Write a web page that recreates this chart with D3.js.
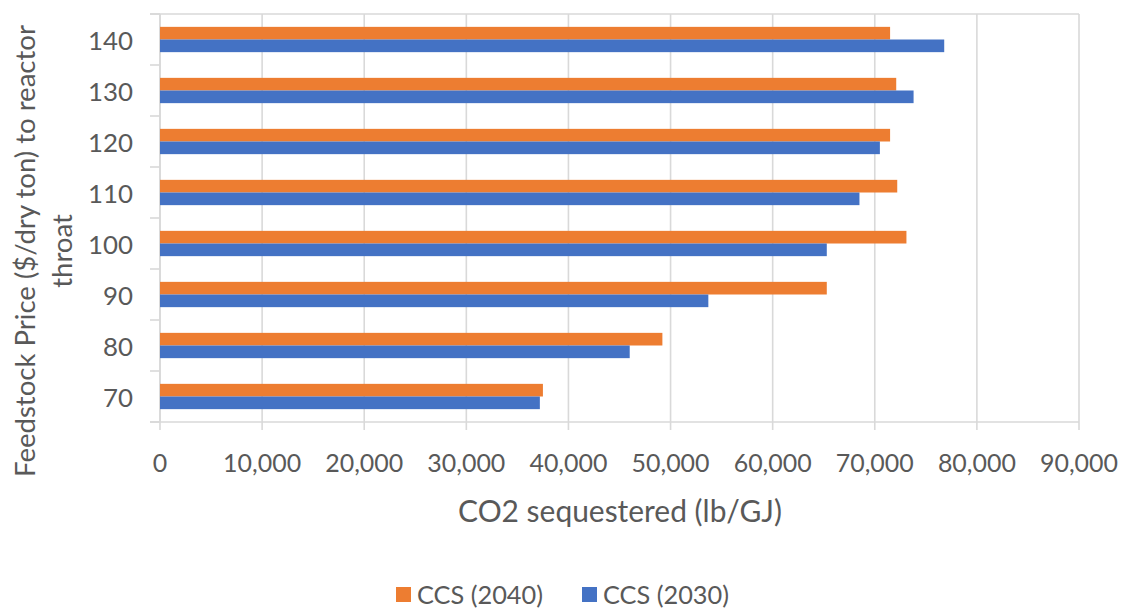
<!DOCTYPE html>
<html>
<head>
<meta charset="utf-8">
<script src="https://cdn.jsdelivr.net/npm/d3@7"></script>
<style>
  html, body { margin: 0; padding: 0; background: #fff; }
  svg { display: block; }
  text { font-family: Lato, "Open Sans", sans-serif; fill: #595959; }
</style>
</head>
<body>
<svg id="chart" width="1125" height="609"></svg>
<script>
const categories = ["70", "80", "90", "100", "110", "120", "130", "140"];
const ccs2040 = [37500, 49200, 65300, 73100, 72200, 71500, 72100, 71500];
const ccs2030 = [37200, 46000, 53700, 65300, 68500, 70500, 73800, 76800];
const xTicks = [0, 10000, 20000, 30000, 40000, 50000, 60000, 70000, 80000, 90000];
const seriesNames = ["CCS (2040)", "CCS (2030)"];
const seriesColors = ["#ED7D31", "#4472C4"];
const xTitle = "CO2 sequestered (lb/GJ)";
const yTitleLines = ["Feedstock Price ($/dry ton) to reactor", "throat"];

const svg = d3.select("#chart");
const m = { left: 160, right: 1079, top: 14, bottom: 422 };
const grid = "#d9d9d9";

function fit(sel, target) {
  sel.each(function () {
    const s = d3.select(this);
    const w = this.getComputedTextLength();
    const fs = parseFloat(s.attr("font-size"));
    s.attr("font-size", (fs * target / w).toFixed(2));
  });
}

const x = d3.scaleLinear().domain([0, 90000]).range([m.left, m.right]);
const y = d3.scaleBand().domain(categories.slice().reverse()).range([m.top, m.bottom]).padding(0);
const sub = d3.scaleBand().domain(seriesNames).range([y.bandwidth() * 0.252, y.bandwidth() * 0.748]).padding(0);

const data = categories.map((c, i) => ({ cat: c, vals: [ccs2040[i], ccs2030[i]] }));

// gridlines
svg.append("g").selectAll("line").data(xTicks).join("line")
  .attr("x1", d => x(d)).attr("x2", d => x(d))
  .attr("y1", m.top).attr("y2", m.bottom + 8)
  .attr("stroke", grid).attr("stroke-width", 1.6);
svg.append("line").attr("x1", m.left - 10).attr("x2", m.right).attr("y1", m.top).attr("y2", m.top)
  .attr("stroke", grid).attr("stroke-width", 1.6);
svg.append("line").attr("x1", m.left).attr("x2", m.left).attr("y1", m.top).attr("y2", m.bottom)
  .attr("stroke", grid).attr("stroke-width", 1.6);
const bounds = categories.map(c => y(c)).concat([m.bottom]);
svg.append("g").selectAll("line").data(bounds).join("line")
  .attr("x1", m.left - 10).attr("x2", m.left)
  .attr("y1", d => d).attr("y2", d => d)
  .attr("stroke", grid).attr("stroke-width", 1.6);
svg.append("line").attr("x1", m.left - 10).attr("x2", m.right).attr("y1", m.bottom).attr("y2", m.bottom)
  .attr("stroke", grid).attr("stroke-width", 1.6);

// bars
const groups = svg.append("g").selectAll("g").data(data).join("g")
  .attr("transform", d => `translate(0,${y(d.cat)})`);
groups.selectAll("rect").data(d => d.vals.map((v, j) => ({ v, name: seriesNames[j], color: seriesColors[j] })))
  .join("rect")
  .attr("x", x(0))
  .attr("y", d => sub(d.name))
  .attr("width", d => x(d.v) - x(0))
  .attr("height", sub.bandwidth())
  .attr("fill", d => d.color);

// y tick labels
const yl = svg.append("g").selectAll("text").data(categories).join("text")
  .attr("x", 133).attr("y", d => y(d) + y.bandwidth() / 2)
  .attr("text-anchor", "end").attr("dominant-baseline", "central")
  .attr("font-size", 21).text(d => d);
fit(yl.filter(d => d === "140"), 45);
yl.attr("font-size", yl.filter(d => d === "140").attr("font-size"));

// x tick labels
const fmt = d3.format(",");
const xl = svg.append("g").selectAll("text").data(xTicks).join("text")
  .attr("x", d => x(d)).attr("y", 462)
  .attr("text-anchor", "middle").attr("dominant-baseline", "central")
  .attr("font-size", 21).text(d => fmt(d));
fit(xl.filter(d => d === 10000), 78);
xl.attr("font-size", xl.filter(d => d === 10000).attr("font-size"));

// x title
const xt = svg.append("text").attr("x", 620).attr("y", 510)
  .attr("text-anchor", "middle").attr("dominant-baseline", "central")
  .attr("font-size", 21).text(xTitle);
fit(xt, 324);

// y title
const yt1 = svg.append("text").attr("transform", "translate(24,251) rotate(-90)")
  .attr("text-anchor", "middle").attr("dominant-baseline", "central")
  .attr("font-size", 21).text(yTitleLines[0]);
fit(yt1, 452);
svg.append("text").attr("transform", "translate(61,251) rotate(-90)")
  .attr("text-anchor", "middle").attr("dominant-baseline", "central")
  .attr("font-size", yt1.attr("font-size")).text(yTitleLines[1]);

// legend
const legX = [396, 582];
const leg = svg.append("g").selectAll("g").data(seriesNames).join("g")
  .attr("transform", (d, i) => `translate(${legX[i]},594)`);
leg.append("rect").attr("x", 0).attr("y", -7).attr("width", 15).attr("height", 15)
  .attr("fill", (d, i) => seriesColors[i]);
const lt = leg.append("text").attr("x", 21).attr("y", 0).attr("dominant-baseline", "central")
  .attr("font-size", 21).text(d => d);
fit(lt, 126);
</script>
</body>
</html>
